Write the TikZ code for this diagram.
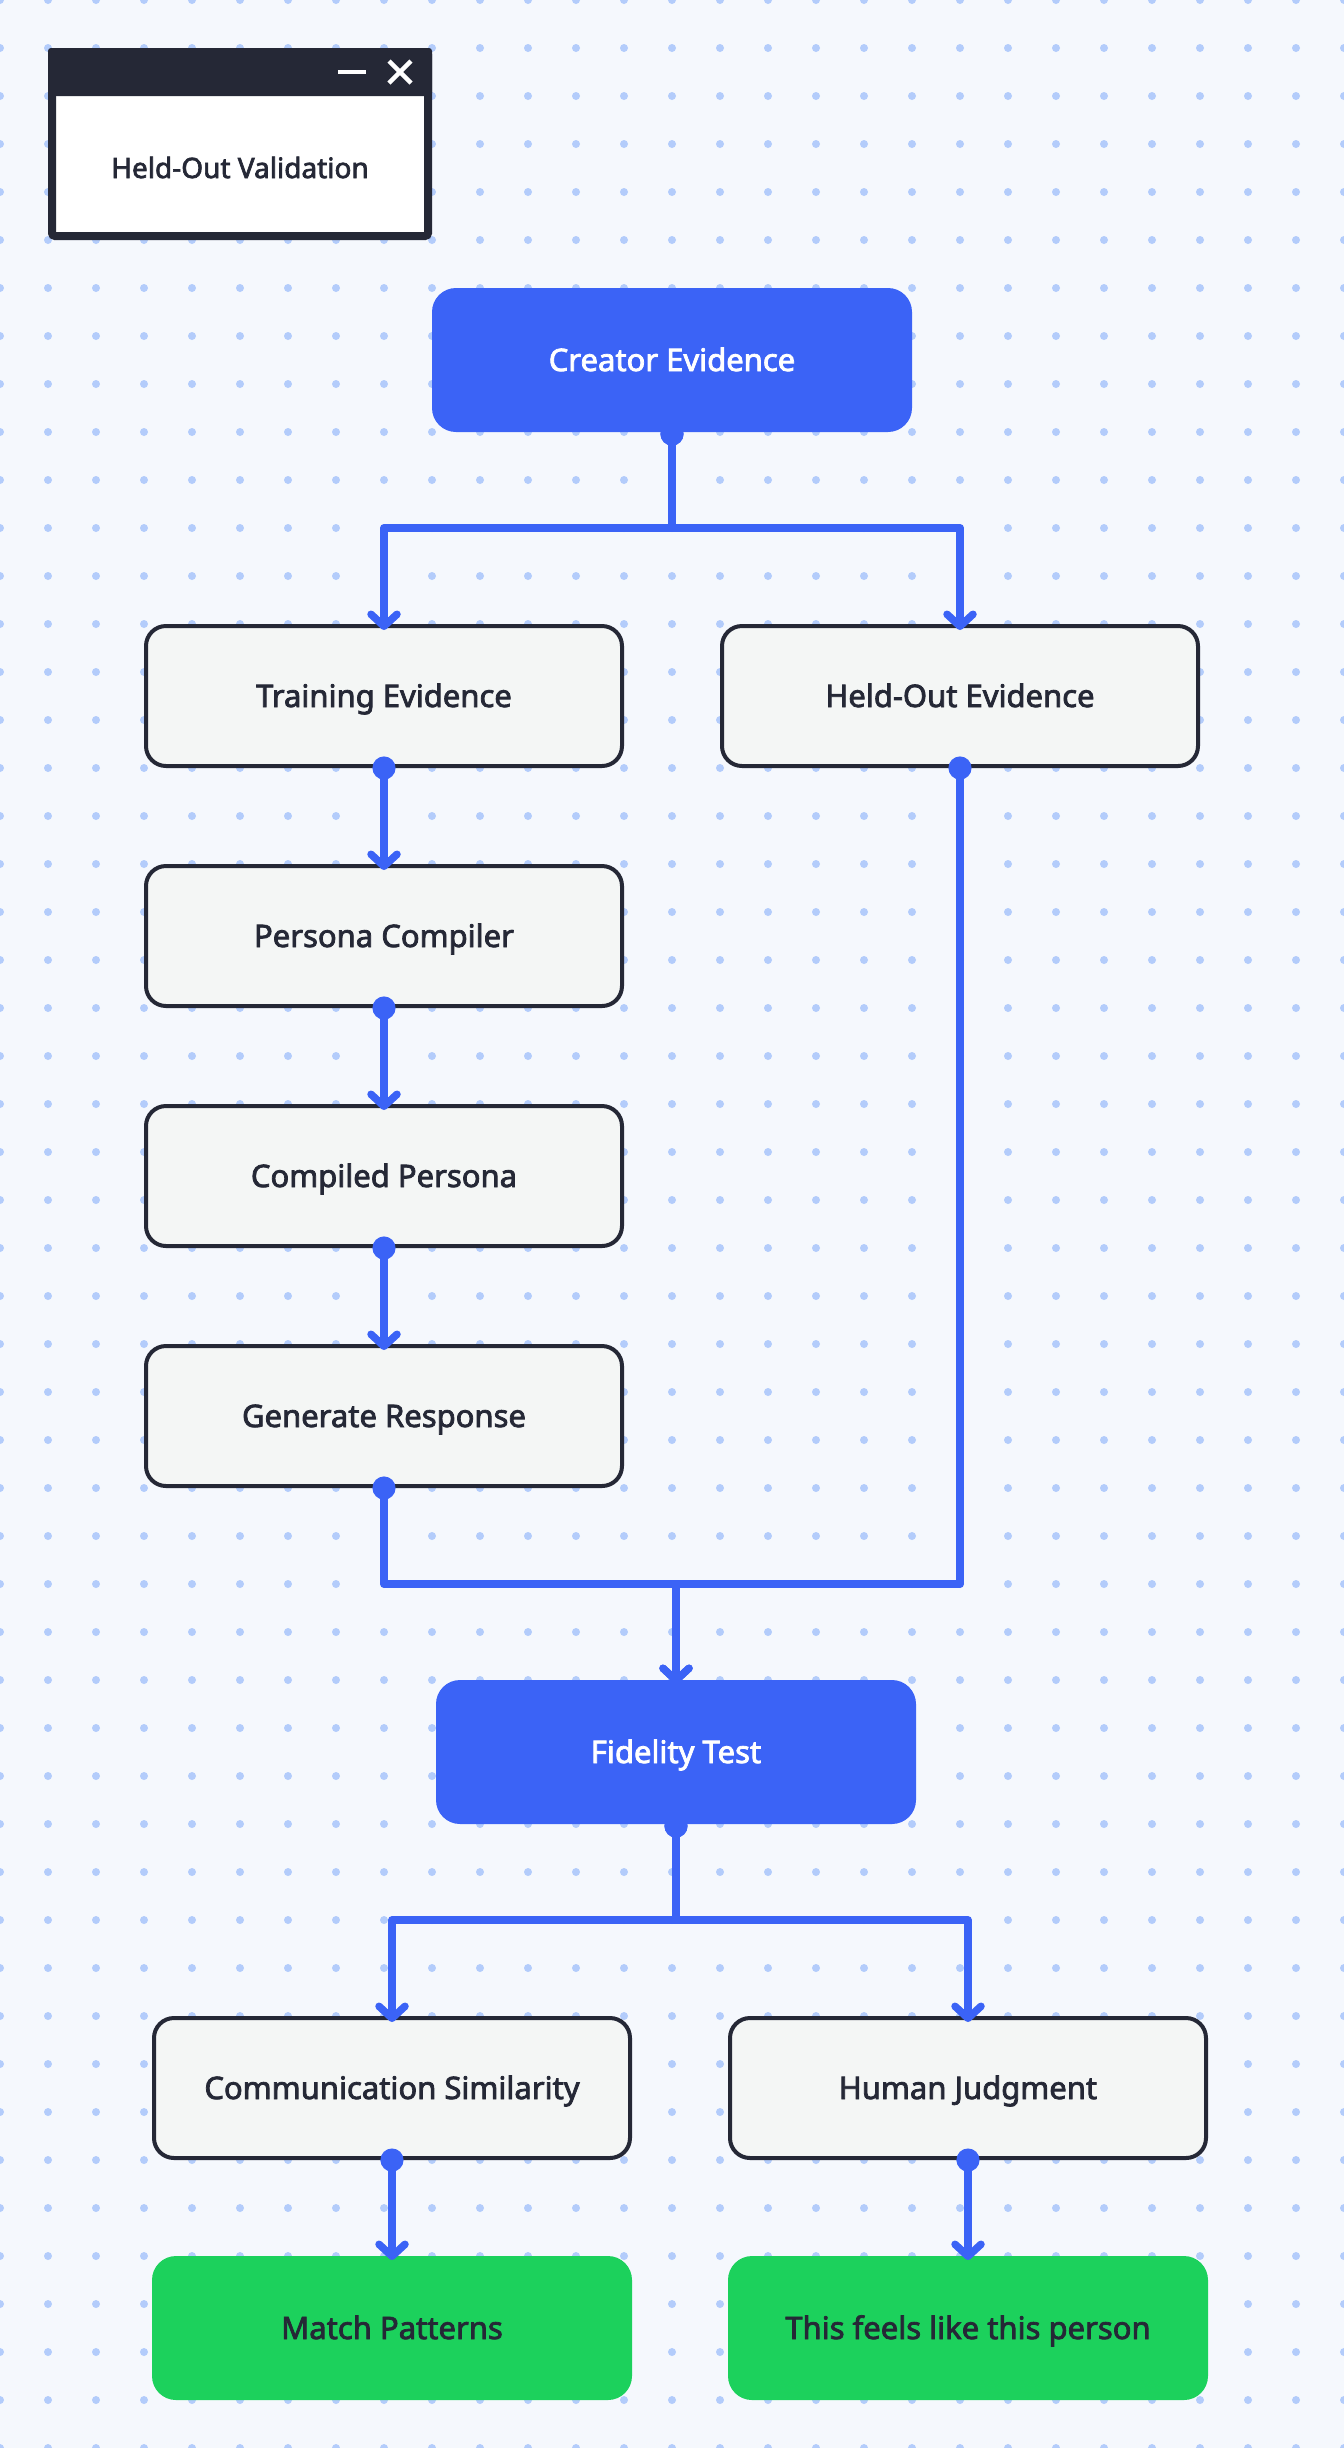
\documentclass[tikz,border=0pt]{standalone}
\usepackage{fontspec}
\newfontfamily\boxfont{Noto Sans}[FakeBold=2.5]
\usetikzlibrary{shapes}
\usetikzlibrary{arrows.meta}
\definecolor{paper}{HTML}{F5F8FD}
\definecolor{griddot}{HTML}{B3CCFB}
\definecolor{flowblue}{HTML}{3B63F6}
\definecolor{ink}{HTML}{252836}
\definecolor{boxgray}{HTML}{F4F6F5}
\definecolor{okgreen}{HTML}{1CD15C}

\begin{document}
\begin{tikzpicture}[x=0.5pt,y=-0.5pt]
	\tikzstyle{box} = [rectangle, rounded corners=10pt, minimum width=238pt, minimum height=70pt, text centered, text height=11pt, text depth=0pt, draw=ink, line width=2pt, fill=boxgray, text=ink, font=\boxfont\fontsize{15.5}{18}\selectfont]
	\tikzstyle{stage} = [box, draw=none, fill=flowblue, text=white, rounded corners=12pt, minimum width=240pt, minimum height=72pt]
	\tikzstyle{outcome} = [stage, fill=okgreen, text=ink]
	\tikzstyle{link} = [draw=flowblue, line width=3.75pt, line join=round, {Circle[length=11.5pt]}-{Straight Barb[length=6pt,width=13pt,round]}, shorten <=-5.75pt, shorten >=-3pt]
	\useasboundingbox (0,0) rectangle (1344,2448);
	\fill[paper] (0,0) rectangle (1344,2448);
	\foreach \i in {0,...,28}
		\foreach \j in {0,...,51}
			\fill[griddot] (48*\i,48*\j) circle (2pt);
	\node (window)[rectangle, rounded corners=1.5pt, draw=ink, line width=4pt, fill=white, minimum width=188pt, minimum height=92pt] at (240,144) {};
	\node (titlebar)[rectangle, rounded corners=1.5pt, fill=ink, minimum width=192pt, minimum height=24pt, inner sep=0pt] at (240,72) {};
	\draw[white, line width=2.2pt] (338,72) -- (366,72);
	\draw[white, line width=2.2pt] (389,61) -- (411,83);
	\draw[white, line width=2.2pt] (389,83) -- (411,61);
	\node (wintitle)[text=ink, text height=10pt, text depth=0pt, font=\boxfont\fontsize{14}{16}\selectfont] at (240,168) {Held-Out Validation};
	\node (creator)[stage] at (672,360) {Creator Evidence};
	\node (train)[box] at (384,696) {Training Evidence};
	\node (heldout)[box] at (960,696) {Held-Out Evidence};
	\node (compiler)[box] at (384,936) {Persona Compiler};
	\node (compiled)[box] at (384,1176) {Compiled Persona};
	\node (generate)[box] at (384,1416) {Generate Response};
	\node (fidelity)[stage] at (676,1752) {Fidelity Test};
	\node (similarity)[box] at (392,2088) {Communication Similarity};
	\node (judgment)[box] at (968,2088) {Human Judgment};
	\node (match)[outcome] at (392,2328) {Match Patterns};
	\node (feels)[outcome] at (968,2328) {This feels like this person};
	\coordinate (split) at (672,528);
	\coordinate (merge) at (676,1584);
	\coordinate (fork) at (676,1920);
	\draw[link] (creator.south) -- (split) -| (train.north);
	\draw[link] (creator.south) -- (split) -| (heldout.north);
	\draw[link] (train.south) -- (compiler.north);
	\draw[link] (compiler.south) -- (compiled.north);
	\draw[link] (compiled.south) -- (generate.north);
	\draw[link] (generate.south) |- (merge) -- (fidelity.north);
	\draw[link] (heldout.south) |- (merge) -- (fidelity.north);
	\draw[link] (fidelity.south) -- (fork) -| (similarity.north);
	\draw[link] (fidelity.south) -- (fork) -| (judgment.north);
	\draw[link] (similarity.south) -- (match.north);
	\draw[link] (judgment.south) -- (feels.north);
\end{tikzpicture}
\end{document}
